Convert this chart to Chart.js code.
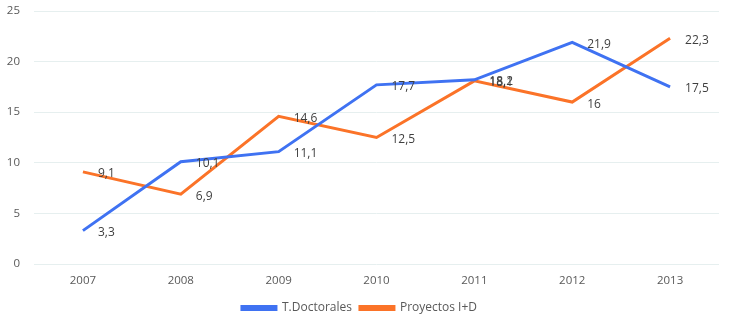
<!DOCTYPE html>
<html>
<head>
<meta charset="utf-8">
<script src="https://cdn.jsdelivr.net/npm/chart.js@4"></script>
<style>
  html, body { margin: 0; padding: 0; background: #fff; }
  #wrap { width: 735px; height: 326px; }
</style>
</head>
<body>
<div id="wrap"><canvas id="chart"></canvas></div>
<script>
const years = ['2007', '2008', '2009', '2010', '2011', '2012', '2013'];
const doctorales = [3.3, 10.1, 11.1, 17.7, 18.2, 21.9, 17.5];
const proyectos = [9.1, 6.9, 14.6, 12.5, 18.1, 16, 22.3];
const yTicks = [0, 5, 10, 15, 20, 25];

// value labels to the right of each point, comma decimal
const pointLabels = {
    id: 'pointLabels',
    afterDatasetsDraw(chart) {
        const ctx = chart.ctx;
        ctx.save();
        ctx.font = '12px "Open Sans", sans-serif';
        ctx.fillStyle = '#3f3f3f';
        ctx.textAlign = 'left';
        ctx.textBaseline = 'middle';
        chart.data.datasets.forEach((ds, i) => {
            chart.getDatasetMeta(i).data.forEach((pt, j) => {
                const txt = String(ds.data[j]).replace('.', ',');
                ctx.fillText(txt, pt.x + 15, pt.y + 2);
            });
        });
        ctx.restore();
    }
};

new Chart(document.getElementById('chart'), {
    type: 'line',
    data: {
        labels: years,
        datasets: [
            { label: 'T.Doctorales', data: doctorales, borderColor: '#3f72f2', backgroundColor: '#3f72f2', borderWidth: 3, pointRadius: 0, tension: 0 },
            { label: 'Proyectos I+D', data: proyectos, borderColor: '#fb7328', backgroundColor: '#fb7328', borderWidth: 3, pointRadius: 0, tension: 0 }
        ]
    },
    options: {
        responsive: true,
        maintainAspectRatio: false,
        animation: false,
        layout: { padding: { top: 11, right: 16, bottom: 2, left: 0 } },
        plugins: {
            legend: {
                position: 'bottom',
                labels: {
                    boxWidth: 34, boxHeight: 3, padding: 8,
                    color: '#595959',
                    font: { family: '"Open Sans", sans-serif', size: 12 }
                }
            },
            tooltip: { enabled: false }
        },
        scales: {
            x: {
                offset: true,
                afterFit(scale) { scale.height = 30; },
                grid: { display: false },
                border: { display: false },
                ticks: { color: '#595959', padding: 2, font: { family: '"Open Sans", sans-serif', size: 11.5 } }
            },
            y: {
                min: 0, max: 25,
                afterFit(scale) { scale.width = 34; scale.paddingTop = 0; scale.paddingBottom = 0; },
                afterBuildTicks(scale) { scale.ticks = yTicks.map(v => ({ value: v })); },
                grid: { color: '#e6efef', drawTicks: false },
                border: { display: false },
                ticks: { color: '#595959', padding: 14, font: { family: '"Open Sans", sans-serif', size: 11.5 } }
            }
        }
    },
    plugins: [pointLabels]
});
</script>
</body>
</html>
